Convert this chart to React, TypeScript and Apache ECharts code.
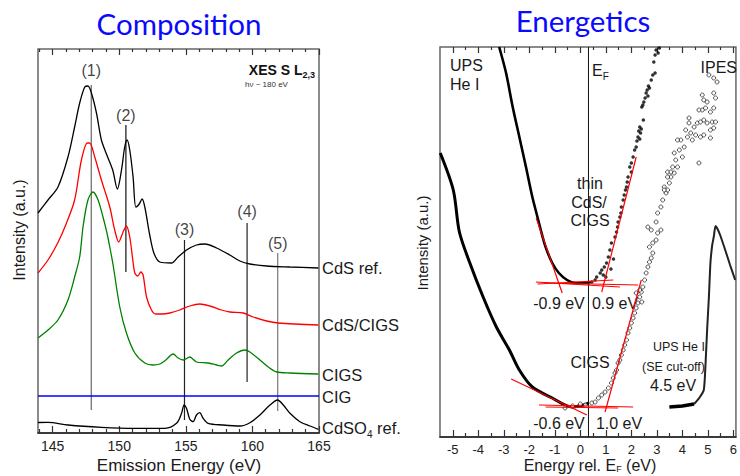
import React, { useEffect, useRef } from "react";
import * as echarts from "echarts";

// ---------- Left panel: XES S L2,3 (Emission Energy, eV ; Intensity a.u.) ----------
const xesMajorTicks = [145, 150, 155, 160, 165];
const xesMinorTicks = [144, 146, 147, 148, 149, 151, 152, 153, 154, 156, 157, 158, 159, 161, 162, 163, 164];

const cdsRef = [
  [143.9, 220], [144.65, 233], [145.4, 246], [146.15, 276], [146.65, 306], [147.03, 330], [147.41, 346],
  [147.65, 347], [147.91, 340], [148.29, 320], [148.66, 293], [149.04, 279], [149.51, 263], [149.86, 244],
  [150.17, 263], [150.41, 286], [150.59, 293], [150.79, 283], [151.04, 256], [151.25, 226], [151.5, 229],
  [151.72, 234], [151.92, 226], [152.29, 198], [152.6, 180], [153.05, 171], [153.92, 170], [154.42, 176],
  [155.05, 183], [155.8, 188], [156.43, 189], [157.31, 185], [158.31, 178], [159.06, 172], [159.81, 169],
  [161.07, 167], [162.82, 166], [164.95, 165],
];
const cdsCigs = [
  [143.9, 160], [144.65, 173], [145.38, 190], [145.98, 208], [146.65, 233], [147.16, 273], [147.61, 290],
  [147.78, 290], [148.16, 276], [148.66, 253], [149.29, 226], [149.66, 203], [149.96, 191], [150.29, 201],
  [150.54, 207], [150.79, 196], [150.99, 176], [151.17, 160], [151.39, 157], [151.62, 161], [151.79, 158],
  [152.05, 136], [152.42, 123], [152.74, 119], [153.17, 119], [153.8, 120], [154.55, 123], [155.3, 127],
  [156.05, 129], [156.8, 127], [157.68, 123], [158.31, 121], [159.31, 120], [160.06, 116], [161.07, 112],
  [161.94, 110], [164.95, 108],
];
const cigs = [
  [143.9, 95], [144.65, 103], [145.4, 113], [146.15, 133], [146.65, 156], [147.03, 176], [147.28, 206],
  [147.65, 233], [148.03, 241], [148.41, 233], [148.78, 216], [149.06, 201], [149.29, 186], [149.54, 168],
  [150.04, 126], [150.54, 100], [151.17, 80], [151.92, 70], [152.54, 68], [153.05, 69], [153.5, 73],
  [154.05, 79], [154.42, 75], [154.8, 73], [155.3, 76], [155.8, 71], [156.68, 70], [157.31, 68],
  [157.68, 67], [158.18, 73], [158.81, 80], [159.44, 83], [159.81, 81], [160.56, 73], [161.19, 66],
  [161.82, 61], [162.82, 60], [164.95, 59],
];
const cig = [[143.9, 37], [165, 37]];
const cdso4Ref = [
  [143.9, 10.5], [144.65, 10.7], [146.15, 8], [148.66, 5.7], [151.17, 4.7], [153.42, 4.7], [154.3, 9.7],
  [154.68, 19.7], [154.87, 28], [155.05, 24.7], [155.3, 13.7], [155.55, 11.3], [155.8, 18], [156.05, 20.3],
  [156.3, 14.7], [156.68, 9.7], [157.8, 8], [159.06, 7], [159.81, 10.3], [160.56, 18], [161.32, 28],
  [161.89, 33], [162.32, 28], [162.82, 19.7], [163.57, 11.3], [164.32, 7], [164.95, 3.7],
];
const peakLabels = ["(1)", "(2)", "(3)", "(4)", "(5)"];
const peakEnergies = [147.9, 150.5, 154.9, 159.6, 161.9];
const peakLineTop = [348, 308, 193, 210, 180];
const peakLineBottom = [23, 161, 13, 51, 22];
const peakLabelY = [363, 318, 204, 222, 190];
const peakColors = ["#666", "#111", "#222", "#222", "#777"];

// ---------- Right panel: UPS / IPES (Energy rel. EF, eV ; Intensity a.u.) ----------
const eMajorTicks = [-5, -4, -3, -2, -1, 0, 1, 2, 3, 4, 5, 6];
const eMinorTicks = [-4.5, -3.5, -2.5, -1.5, -0.5, 0.5, 1.5, 2.5, 3.5, 4.5, 5.5];
const fermiLevel = 0.32;

const upsThinLine = [
  [-3.18, 390], [-2.91, 364], [-2.65, 330], [-2.39, 300], [-2.13, 270], [-1.88, 240], [-1.68, 220],
  [-1.55, 207], [-1.36, 190], [-1.1, 174], [-0.84, 164], [-0.52, 157], [-0.19, 154], [0.13, 154], [0.4, 155],
];
const ipesThinDots = [
  [3.1, 389], [2.97, 387], [3.05, 384], [2.93, 382], [2.88, 375], [2.93, 364], [2.84, 362], [2.78, 357],
  [2.71, 349], [2.67, 351], [2.62, 347], [2.58, 344], [2.65, 341], [2.54, 339], [2.49, 335], [2.45, 332],
  [2.41, 330], [2.47, 317], [2.33, 310], [2.39, 308], [2.29, 306], [2.36, 304], [2.26, 300], [2.33, 298],
  [2.22, 296], [2.19, 290], [2.13, 287], [2.07, 280], [2.0, 274], [1.94, 270], [2.0, 265], [1.87, 260],
  [1.84, 255], [1.81, 250], [1.77, 247], [1.72, 242], [1.68, 237], [1.61, 230], [1.59, 224], [1.55, 220],
  [1.48, 215], [1.46, 210], [1.42, 205], [1.36, 200], [1.22, 194], [1.16, 187], [1.1, 180], [1.03, 174],
  [0.94, 170], [0.84, 167], [0.78, 164], [0.64, 160], [0.58, 157], [0.45, 155], [0.32, 154], [1.3, 178],
  [1.0, 160], [0.9, 162], [1.2, 168],
];
const upsCigsLine = [
  [-5.49, 284], [-4.98, 247], [-4.74, 205], [-4.33, 174], [-3.81, 140], [-3.29, 110], [-2.78, 87],
  [-2.39, 67], [-1.88, 50], [-1.1, 39], [-0.33, 30], [0.13, 32], [0.32, 34],
];
const ipesCigsCircles = [
  [-0.6, 29], [-0.3, 31], [0.0, 33], [0.2, 32], [0.45, 34], [0.58, 35], [0.71, 39], [0.84, 42], [0.97, 45],
  [1.1, 49], [1.22, 54], [1.29, 59], [1.36, 64], [1.42, 67], [1.48, 74], [1.55, 77], [1.61, 82], [1.68, 87],
  [1.74, 92], [1.81, 97], [1.87, 104], [1.94, 109], [2.0, 114], [2.07, 119], [2.13, 124], [2.19, 129],
  [2.26, 134], [2.33, 140], [2.39, 145], [2.45, 150], [2.19, 144], [2.33, 147], [2.41, 135], [2.52, 157],
  [2.58, 164], [2.65, 170], [2.71, 175], [2.78, 179], [2.84, 184], [2.71, 190], [2.84, 194], [2.97, 197],
  [3.03, 204], [3.16, 207], [2.65, 210], [2.78, 207], [2.97, 215], [3.03, 224], [3.16, 230], [3.23, 237],
  [3.36, 244], [3.29, 250], [3.42, 247], [3.49, 254], [3.55, 260], [3.68, 264], [3.42, 265], [3.81, 270],
  [3.74, 277], [3.68, 284], [4.0, 280], [3.88, 287], [4.07, 290], [3.94, 297], [4.2, 300], [4.13, 307],
  [4.33, 304], [4.39, 297], [4.52, 302], [4.65, 274], [4.26, 314], [4.46, 310], [4.59, 314], [4.71, 315],
  [4.84, 317], [4.97, 314], [5.17, 315], [5.3, 315], [5.1, 307], [5.23, 309], [5.1, 299], [4.71, 300],
  [4.84, 302], [4.78, 327], [4.91, 329], [4.65, 327], [5.1, 325], [5.23, 329], [5.3, 339], [4.84, 337],
  [4.97, 335], [4.78, 342], [5.23, 344], [5.04, 362], [5.23, 359], [5.36, 355], [4.26, 319], [3.81, 297],
  [3.62, 270], [3.55, 265], [3.42, 260], [3.29, 247],
];
const seCutoffFlat = [[3.49, 30], [4.0, 31], [4.46, 33]];
const seCutoff = [
  [4.46, 33], [4.66, 39], [4.84, 47], [4.91, 74], [4.97, 107], [5.04, 140], [5.1, 174], [5.17, 192],
  [5.23, 200], [5.3, 211], [5.36, 209], [5.48, 202], [5.68, 187], [5.87, 172], [6.07, 157],
];
const edgeFits = [
  [[-1.73, 219], [-0.71, 144]],
  [[-1.74, 155], [1.55, 150]],
  [[-1.68, 153], [1.29, 157]],
  [[-1.42, 154], [2.26, 152]],
  [[0.84, 145], [2.19, 280]],
  [[-2.71, 58], [0.26, 22]],
  [[-1.62, 32], [2.07, 30]],
  [[-1.36, 30], [1.48, 29]],
  [[0.97, 25], [2.39, 157]],
];

const SANS = "Liberation Sans";

function tickAxis(gridIndex: number, position: "top" | "bottom", min: number, max: number,
  ticks: number[], len: number, labels: boolean, fontSize: number, line: boolean) {
  return {
    type: "value", gridIndex, position, min, max,
    axisLine: { show: line, onZero: false, lineStyle: { color: "#222", width: 1.5 } },
    axisTick: { show: true, inside: true, length: len, customValues: ticks, lineStyle: { color: "#333", width: 1.2 } },
    axisLabel: labels
      ? { show: true, customValues: ticks, margin: 6, fontSize, fontFamily: SANS, color: "#222" }
      : { show: false },
    splitLine: { show: false },
  };
}

const text = (t: string, x: number, y: number, size: number, opts: any = {}) => ({
  type: "text", x, y, rotation: opts.rotation || 0,
  style: {
    text: t, fontSize: size, fontFamily: opts.family || SANS, fontWeight: opts.weight || "normal",
    fill: opts.fill || "#1a1a1a", align: opts.align || "center", verticalAlign: "middle", rich: opts.rich,
  },
});

const sub = (big: number, small: number, drop = 1.2) => ({
  a: { fontSize: big, fontFamily: SANS, fill: "#1a1a1a" },
  s: { fontSize: small, fontFamily: SANS, fill: "#1a1a1a", padding: [small * drop, 0, 0, 0] },
});

export default function App() {
  const ref = useRef<HTMLDivElement>(null);
  useEffect(() => {
    if (!ref.current) return;
    const chart = echarts.init(ref.current, undefined, { renderer: "svg" });
    const L = { xAxisIndex: 0, yAxisIndex: 0 };
    const R = { xAxisIndex: 4, yAxisIndex: 1 };
    const curve = (data: number[][], color: string, width = 1.3) => ({
      type: "line", ...L, data, smooth: 0.3, symbol: "none", lineStyle: { color, width }, z: 3,
    });
    const series: any[] = [
      curve(cdsRef, "#000"), curve(cdsCigs, "#ff0000"), curve(cigs, "#008000"),
      curve(cig, "#0000ff", 1.5), curve(cdso4Ref, "#000"),
      ...peakEnergies.map((e, i) => ({
        type: "line", ...L, data: [[e, peakLineTop[i]], [e, peakLineBottom[i]]], symbol: "none",
        lineStyle: { color: peakColors[i], width: 1.2 }, z: 2,
      })),
      {
        type: "scatter", ...L, symbolSize: 0,
        data: peakEnergies.map((e, i) => [e, peakLabelY[i], peakLabels[i]]),
        label: { show: true, position: "inside", formatter: (p: any) => p.value[2], fontSize: 16, fontFamily: SANS, color: "#111" },
      },
      // right panel
      {
        type: "line", ...R, data: [[fermiLevel, 0], [fermiLevel, 390]], symbol: "none",
        lineStyle: { color: "#111", width: 1 }, z: 1,
      },
      { type: "line", ...R, data: upsThinLine, smooth: 0.3, symbol: "none", lineStyle: { color: "#000", width: 2.6 }, z: 3 },
      { type: "line", ...R, data: upsCigsLine, smooth: 0.3, symbol: "none", lineStyle: { color: "#000", width: 3 }, z: 3 },
      { type: "scatter", ...R, data: ipesThinDots, symbol: "circle", symbolSize: 3.5, itemStyle: { color: "#000" }, z: 3 },
      {
        type: "scatter", ...R, data: ipesCigsCircles, symbol: "circle", symbolSize: 4,
        itemStyle: { color: "#fff", borderColor: "#000", borderWidth: 0.8 }, z: 3,
      },
      { type: "line", ...R, data: seCutoffFlat, symbol: "none", lineStyle: { color: "#000", width: 3.5 }, z: 3 },
      { type: "line", ...R, data: seCutoff, smooth: 0.2, symbol: "none", lineStyle: { color: "#222", width: 2 }, z: 3 },
      ...edgeFits.map((seg) => ({
        type: "line", ...R, data: seg, symbol: "none", lineStyle: { color: "#ff0000", width: 1.2 }, z: 5,
      })),
    ];

    chart.setOption({
      animation: false,
      grid: [
        { left: 38, right: 421, top: 49, bottom: 43, show: true, borderColor: "#666", borderWidth: 1.5, backgroundColor: "transparent" },
        { left: 440, right: 1, top: 47, bottom: 39, show: true, borderColor: "#666", borderWidth: 1.5, backgroundColor: "transparent" },
      ],
      xAxis: [
        tickAxis(0, "bottom", 143.9, 165, xesMajorTicks, 7, true, 14, true),
        tickAxis(0, "bottom", 143.9, 165, xesMinorTicks, 4, false, 14, false),
        tickAxis(0, "top", 143.9, 165, xesMajorTicks, 6, false, 14, false),
        tickAxis(0, "top", 143.9, 165, xesMinorTicks, 3, false, 14, false),
        tickAxis(1, "bottom", -5.5, 6.1, eMajorTicks, 7, true, 13, true),
        tickAxis(1, "bottom", -5.5, 6.1, eMinorTicks, 4, false, 13, false),
        tickAxis(1, "top", -5.5, 6.1, eMajorTicks, 6, false, 13, false),
        tickAxis(1, "top", -5.5, 6.1, eMinorTicks, 3, false, 13, false),
      ],
      yAxis: [
        { type: "value", gridIndex: 0, min: 0, max: 384, show: false },
        { type: "value", gridIndex: 1, min: 0, max: 390, show: false },
      ],
      series,
      graphic: [
        text("Composition", 179, 23, 29.5, { family: "Lato", fill: "#0a0aff" }),
        text("Energetics", 583, 20, 29.5, { family: "Lato", fill: "#0a0aff" }),
        text("{b|XES S L}{s|2,3}", 315, 70, 14, {
          align: "right",
          rich: {
            b: { fontSize: 14, fontWeight: "bold", fontFamily: SANS, fill: "#111" },
            s: { fontSize: 9, fontWeight: "bold", fontFamily: SANS, fill: "#111", padding: [9, 0, 0, 0] },
          },
        }),
        text("hν ~ 180 eV", 245, 84, 8, { align: "left", fill: "#333" }),
        text("CdS ref.", 322, 268, 16.5, { align: "left" }),
        text("CdS/CIGS", 322, 325, 16.5, { align: "left" }),
        text("CIGS", 322, 375, 16.5, { align: "left" }),
        text("CIG", 322, 396.5, 16.5, { align: "left" }),
        text("{a|CdSO}{s|4}{a| ref.}", 322, 428, 16.5, { align: "left", rich: sub(16.5, 10) }),
        text("Emission Energy (eV)", 179, 465, 17),
        text("Intensity (a.u.)", 19, 230, 16, { rotation: Math.PI / 2 }),
        text("Intensity (a.u.)", 422, 243, 15, { rotation: Math.PI / 2 }),
        text("{a|Energy rel. E}{s|F}{a| (eV)}", 590, 465, 16, { rich: sub(16, 9, 0.9) }),
        text("UPS", 450, 65, 16, { align: "left" }),
        text("He I", 450, 84, 16, { align: "left" }),
        text("{a|E}{s|F}", 592, 70, 16, { align: "left", rich: sub(16, 10) }),
        text("IPES", 737, 67, 16, { align: "right" }),
        text("thin", 590, 183, 16),
        text("CdS/", 589, 202, 16),
        text("CIGS", 590, 220, 16),
        text("-0.9 eV", 559, 303, 16),
        text("0.9 eV", 615, 303, 16),
        text("CIGS", 590, 362, 16),
        text("-0.6 eV", 559, 423, 16),
        text("1.0 eV", 619, 423, 16),
        text("UPS He I", 705, 347, 12.5, { align: "right" }),
        text("(SE cut-off)", 705, 367, 12.5, { align: "right" }),
        text("4.5 eV", 673, 385, 16),
      ],
    });
    return () => chart.dispose();
  }, []);
  return <div ref={ref} style={{ width: 740, height: 476, position: "absolute", left: 0, top: 0 }} />;
}
